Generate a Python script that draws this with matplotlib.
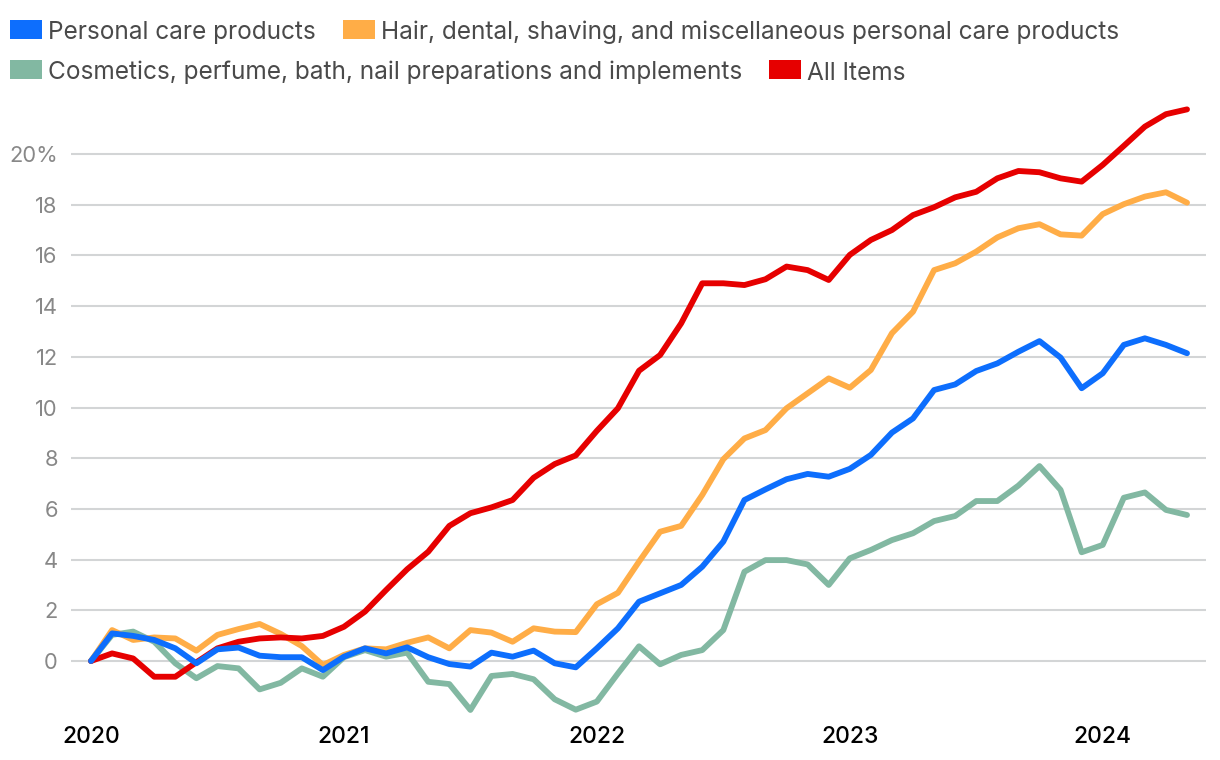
import numpy as np
import pandas as pd
import matplotlib
matplotlib.use("Agg")
import matplotlib.pyplot as plt
from matplotlib.patches import Rectangle

# ---------------- data ----------------
months = pd.date_range("2020-01-01", "2024-05-01", freq="MS")
year_ticks = ["2020", "2021", "2022", "2023", "2024"]
y_ticks = [0, 2, 4, 6, 8, 10, 12, 14, 16, 18, 20]
y_tick_labels = ["0", "2", "4", "6", "8", "10", "12", "14", "16", "18", "20%"]

series_names = [
    "Personal care products",
    "Hair, dental, shaving, and miscellaneous personal care products",
    "Cosmetics, perfume, bath, nail preparations and implements",
    "All Items",
]

personal_care = [
    0.00, 1.09, 0.99, 0.83, 0.50, -0.09, 0.46, 0.53, 0.21, 0.15, 0.15, -0.36,
    0.17, 0.50, 0.30, 0.54, 0.15, -0.12, -0.22, 0.33, 0.17, 0.41, -0.09, -0.25,
    0.50, 1.29, 2.34, 2.67, 3.00, 3.72, 4.71, 6.35, 6.77, 7.17, 7.38, 7.27,
    7.58, 8.13, 9.01, 9.57, 10.69, 10.91, 11.44, 11.74, 12.20, 12.62, 11.97, 10.76,
    11.35, 12.47, 12.73, 12.47, 12.14,
]
hair_dental = [
    0.00, 1.22, 0.83, 0.93, 0.89, 0.41, 1.03, 1.26, 1.46, 1.07, 0.59, -0.16,
    0.24, 0.50, 0.46, 0.72, 0.93, 0.50, 1.22, 1.12, 0.76, 1.29, 1.16, 1.14,
    2.24, 2.69, 3.92, 5.10, 5.33, 6.55, 7.96, 8.78, 9.11, 9.97, 10.56, 11.15,
    10.78, 11.48, 12.93, 13.78, 15.42, 15.69, 16.15, 16.71, 17.07, 17.23, 16.83, 16.78,
    17.63, 18.02, 18.32, 18.49, 18.08,
]
cosmetics = [
    0.00, 1.03, 1.16, 0.76, -0.09, -0.68, -0.20, -0.29, -1.12, -0.86, -0.29, -0.62,
    0.15, 0.43, 0.17, 0.33, -0.82, -0.91, -1.93, -0.59, -0.51, -0.72, -1.51, -1.92,
    -1.60, -0.49, 0.58, -0.13, 0.24, 0.43, 1.22, 3.52, 3.98, 3.98, 3.81, 3.00,
    4.05, 4.38, 4.77, 5.04, 5.52, 5.72, 6.31, 6.31, 6.92, 7.69, 6.75, 4.29,
    4.58, 6.44, 6.65, 5.96, 5.76,
]
all_items = [
    0.00, 0.30, 0.10, -0.62, -0.62, -0.05, 0.50, 0.76, 0.89, 0.93, 0.89, 0.99,
    1.35, 1.95, 2.80, 3.62, 4.31, 5.33, 5.83, 6.06, 6.35, 7.23, 7.77, 8.11,
    9.08, 9.97, 11.45, 12.07, 13.32, 14.90, 14.90, 14.83, 15.06, 15.56, 15.42, 15.03,
    16.02, 16.61, 17.00, 17.59, 17.90, 18.29, 18.51, 19.04, 19.33, 19.28, 19.04, 18.91,
    19.57, 20.32, 21.08, 21.57, 21.76,
]

colors = ["#0d6efd", "#ffad47", "#82b8a2", "#e60000"]
series = [personal_care, hair_dental, cosmetics, all_items]

# ---------------- figure ----------------
plt.rcParams["font.family"] = ["Inter", "DejaVu Sans"]
W, H = 1220, 760
fig = plt.figure(figsize=(W / 100, H / 100), dpi=100)

ax_l, ax_r, ax_t, ax_b = 71, 1206, 100, 720
ax = fig.add_axes([ax_l / W, (H - ax_b) / H, (ax_r - ax_l) / W, (ax_b - ax_t) / H])

x = np.arange(len(months))
draw_order = [2, 1, 3, 0]  # blue drawn on top
for k in draw_order:
    ax.plot(x, series[k], color=colors[k], lw=4.2, solid_capstyle="round",
            solid_joinstyle="round", zorder=3 + draw_order.index(k))

ax.set_xlim(-0.949, len(months) - 1 + 0.90)
ax.set_ylim(-2.327, 22.13)

year_pos = [list(months.year).index(int(y)) for y in year_ticks]
ax.set_xticks(year_pos)
ax.set_xticklabels(year_ticks, fontweight="medium")
ax.set_yticks(y_ticks)
ax.set_yticklabels(y_tick_labels)

ax.tick_params(axis="x", length=0, pad=4.5, labelsize=16.5, labelcolor="#000000")
ax.tick_params(axis="y", length=0, pad=9.5, labelsize=15.8, labelcolor="#888888")
ax.grid(axis="y", color="#d3d5d6", lw=1.5, zorder=0)
ax.grid(axis="x", visible=False)
for s in ax.spines.values():
    s.set_visible(False)

# ---------------- legend (flow layout) ----------------
renderer = fig.canvas.get_renderer()
leg_fs = 16
probe = fig.text(0, 0, series_names[0], fontsize=leg_fs)
wpx = probe.get_window_extent(renderer).width
probe.remove()
leg_fs = leg_fs * 269.0 / wpx

rows = [[0, 1], [2, 3]]
row_baseline = [38.5, 79.5]
row_sq_top = [20, 60]
for r, items in enumerate(rows):
    cx = 10
    for k in items:
        fig.patches.append(Rectangle((cx / W, (H - row_sq_top[r] - 19) / H), 32 / W, 19 / H,
                                     transform=fig.transFigure, color=colors[k], lw=0))
        t = fig.text((cx + 38) / W, (H - row_baseline[r]) / H, series_names[k],
                     fontsize=leg_fs, color="#4a4a4a", va="baseline", ha="left")
        tw = t.get_window_extent(renderer).width
        cx = cx + 38 + tw + 27

fig.savefig("out.png", dpi=100)
